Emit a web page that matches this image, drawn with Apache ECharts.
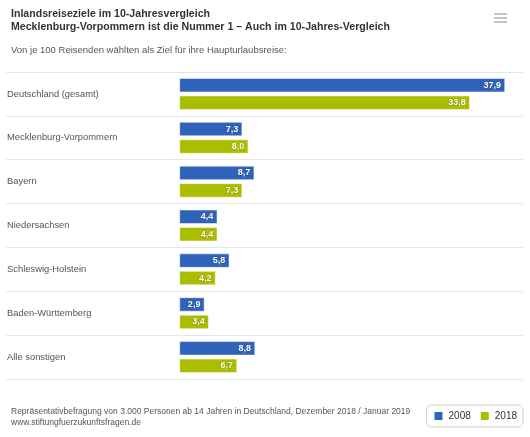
<!DOCTYPE html>
<html>
<head>
<meta charset="utf-8">
<script src="https://cdn.jsdelivr.net/npm/echarts@6/dist/echarts.min.js"></script>
<style>
    html, body {margin: 0; padding: 0; background: #fff;}
    #chart {width: 530px; height: 437px;}
</style>
</head>
<body>
<div id="chart"></div>
<script>
var regions = ['Deutschland (gesamt)', 'Mecklenburg-Vorpommern', 'Bayern', 'Niedersachsen',
    'Schleswig-Holstein', 'Baden-Württemberg', 'Alle sonstigen'];
var values2008 = [37.9, 7.3, 8.7, 4.4, 5.8, 2.9, 8.8];
var values2018 = [33.8, 8.0, 7.3, 4.4, 4.2, 3.4, 6.7];

var font = '"Liberation Sans", Arial, sans-serif';

function komma(p) {
    return p.value.toFixed(1).replace('.', ',');
}

var barLabel = {
    show: true,
    position: 'insideRight',
    distance: 4,
    color: '#fff',
    fontSize: 9,
    fontWeight: 'bold',
    fontFamily: font,
    textBorderColor: 'rgba(0,0,0,0.2)',
    textBorderWidth: 1,
    formatter: komma
};

var chart = echarts.init(document.getElementById('chart'));

option = {
    backgroundColor: '#fff',
    animation: false,
    title: [{
        text: 'Inlandsreiseziele im 10-Jahresvergleich\nMecklenburg-Vorpommern ist die Nummer 1 \u2013 Auch im 10-Jahres-Vergleich',
        left: 6,
        top: 3,
        textStyle: {fontSize: 10.6, fontWeight: 'bold', color: '#333', fontFamily: font, lineHeight: 13}
    }, {
        text: 'Von je 100 Reisenden wählten als Ziel für ihre Haupturlaubsreise:',
        left: 6,
        top: 40,
        textStyle: {fontSize: 9.5, fontWeight: 'normal', color: '#555', fontFamily: font}
    }, {
        text: 'Repräsentativbefragung von 3.000 Personen ab 14 Jahren in Deutschland, Dezember 2018 / Januar 2019\nwww.stiftungfuerzukunftsfragen.de',
        left: 6,
        top: 401,
        textStyle: {fontSize: 8.5, fontWeight: 'normal', color: '#555', fontFamily: font, lineHeight: 11}
    }],
    legend: {
        data: ['2008', '2018'],
        right: 7,
        bottom: 10,
        icon: 'rect',
        itemWidth: 10,
        itemHeight: 10,
        itemGap: 8,
        padding: [5, 6],
        borderColor: '#d0d0d0',
        borderWidth: 1,
        borderRadius: 5,
        textStyle: {fontSize: 10, color: '#333', fontFamily: font}
    },
    grid: {
        left: 6,
        right: 7,
        top: 72,
        bottom: 58,
        containLabel: false
    },
    xAxis: {
        type: 'value',
        min: -20.2,
        max: 40,
        show: false
    },
    yAxis: {
        type: 'category',
        data: regions,
        inverse: true,
        axisLine: {show: false},
        axisTick: {show: false},
        splitLine: {show: true, lineStyle: {color: '#e6e6e6', width: 1}},
        axisLabel: {
            inside: true,
            margin: 1,
            color: '#555',
            fontSize: 9.4,
            fontFamily: font
        }
    },
    graphic: [{
        type: 'group',
        right: 23,
        top: 13,
        children: [
            {type: 'rect', shape: {x: 0, y: 0, width: 13, height: 2}, style: {fill: '#c4c4c4'}},
            {type: 'rect', shape: {x: 0, y: 4, width: 13, height: 2}, style: {fill: '#c4c4c4'}},
            {type: 'rect', shape: {x: 0, y: 8, width: 13, height: 2}, style: {fill: '#c4c4c4'}}
        ]
    }],
    series: [{
        name: '2008',
        type: 'bar',
        data: values2008,
        barWidth: 14,
        barGap: '25%',
        itemStyle: {color: '#2f62b9', borderColor: '#fff', borderWidth: 0.5},
        label: barLabel
    }, {
        name: '2018',
        type: 'bar',
        data: values2018,
        barWidth: 14,
        itemStyle: {color: '#aabd00', borderColor: '#fff', borderWidth: 0.5},
        label: barLabel
    }]
};

chart.setOption(option);
</script>
</body>
</html>
